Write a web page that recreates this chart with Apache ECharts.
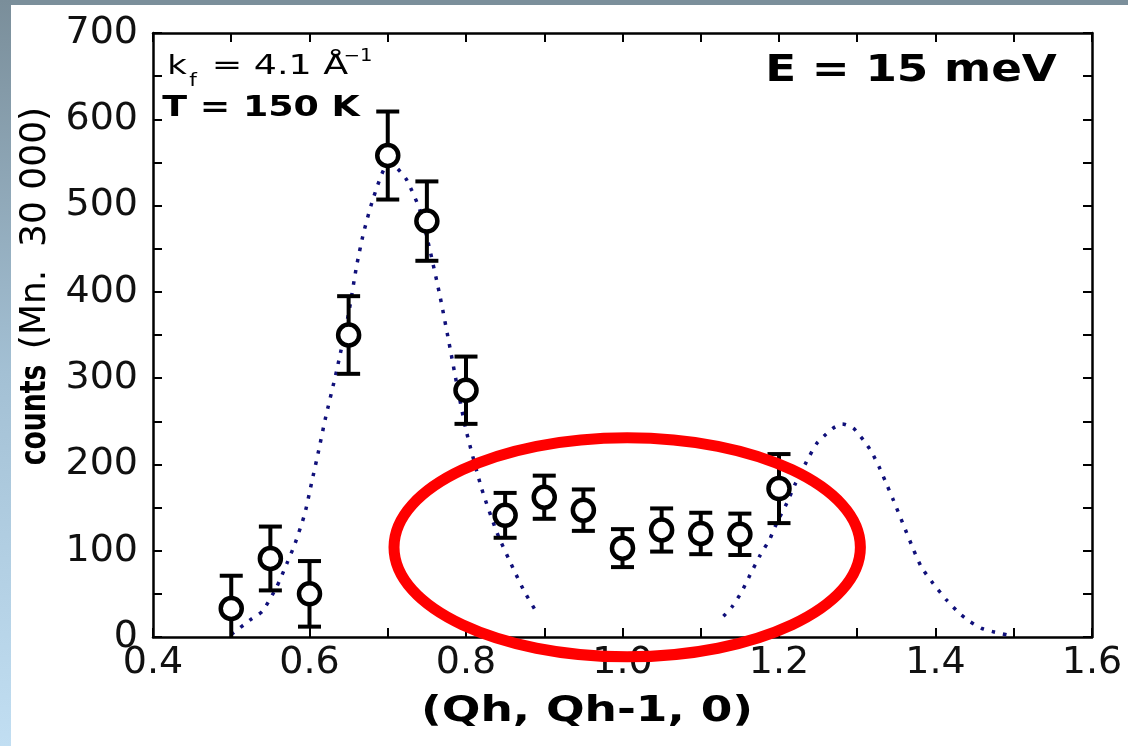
<!DOCTYPE html>
<html>
<head>
<meta charset="utf-8">
<script src="https://cdn.jsdelivr.net/npm/echarts@6/dist/echarts.min.js"></script>
<style>
  html, body { margin: 0; padding: 0; background: #ffffff; }
  #chart { width: 1128px; height: 746px; }
</style>
</head>
<body>
<div id="chart"></div>
<script>
// Measured scan at E = 15 meV: wave-vector position, counts and their uncertainty
const qh     = [0.50, 0.55, 0.60, 0.65, 0.70, 0.75, 0.80, 0.85, 0.90, 0.95, 1.00, 1.05, 1.10, 1.15, 1.20];
const counts = [33,   91,   50,   350,  558,  482,  286,  141,  162,  147,  103,  124,  120,  119,  172];
const errors = [38,   37,   38,   45,   51,   46,   39,   26,   25,   24,   22,   25,   24,   24,   40];

// Fitted peak profiles (dotted curves)
const fit1Q = [0.500, 0.526, 0.540, 0.558, 0.571, 0.581, 0.594, 0.603, 0.611, 0.620, 0.635, 0.650, 0.660, 0.669, 0.682, 0.700, 0.710, 0.724, 0.741, 0.754, 0.767, 0.780, 0.788, 0.800, 0.820, 0.840, 0.860, 0.875, 0.890];
const fit1C = [3,     21,    30,    58,    85,    107,   143,   180,   213,   252,   310,   375,   429,   468,   510,   548,   545,   530,   495,   448,   394,   333,   294,   240,   172,   120,   80,    52,    29];
const fit2Q = [1.129, 1.140, 1.152, 1.163, 1.176, 1.188, 1.197, 1.210, 1.220, 1.235, 1.248, 1.259, 1.269, 1.281, 1.295, 1.308, 1.318, 1.329, 1.338, 1.346, 1.359, 1.372, 1.382, 1.397, 1.414, 1.431, 1.444, 1.459, 1.474, 1.499];
const fit2C = [24,    35,    52,    72,    95,    113,   132,   155,   176,   203,   224,   234,   242,   247,   242,   228,   215,   195,   176,   159,   130,   101,   81,    62,    43,    27,    18,    10,    6,     1];

// Axis ranges
const qRange = [0.4, 1.6];
const cRange = [0, 700];

// Highlighted region (data units): centre, half-width, half-height
const highlightCentre = [1.006, 104];
const highlightHalf = [0.298, 127];

const TXT = 'DejaVu Sans, Verdana, sans-serif';

const chart = echarts.init(document.getElementById('chart'), null, { renderer: 'canvas' });

function tickStyle() {
  return {
    axisLine: { show: true, onZero: false, lineStyle: { color: '#000', width: 2.5 } },
    axisTick: { show: true, inside: true, length: 9, lineStyle: { color: '#000', width: 2 } },
    minorTick: { show: true, splitNumber: 2, length: 9, lineStyle: { color: '#000', width: 2 } },
    splitLine: { show: false },
    minorSplitLine: { show: false }
  };
}

// Square dots, well separated
const dotted = { color: '#10107a', width: 3.5, type: [3.5, 8], cap: 'butt' };

chart.setOption({
  animation: false,
  backgroundColor: '#ffffff',
  grid: { left: 153, top: 33, right: 36, bottom: 109, containLabel: false },
  xAxis: [
    Object.assign({
      type: 'value', min: qRange[0], max: qRange[1], interval: 0.2, position: 'bottom',
      axisLabel: { formatter: v => v.toFixed(1), fontSize: 38, color: '#111', fontFamily: TXT, margin: 7 }
    }, tickStyle()),
    Object.assign({
      type: 'value', min: qRange[0], max: qRange[1], interval: 0.2, position: 'top',
      axisLabel: { show: false }
    }, tickStyle())
  ],
  yAxis: [
    Object.assign({
      type: 'value', min: cRange[0], max: cRange[1], interval: 100, position: 'left',
      axisLabel: { fontSize: 38, color: '#111', fontFamily: TXT, margin: 15, padding: [0, 0, 8, 0] }
    }, tickStyle()),
    Object.assign({
      type: 'value', min: cRange[0], max: cRange[1], interval: 100, position: 'right',
      axisLabel: { show: false }
    }, tickStyle())
  ],
  series: [
    {
      name: 'fit 1', type: 'line', data: fit1Q.map((q, i) => [q, fit1C[i]]),
      showSymbol: false, smooth: 0.2, lineStyle: dotted, z: 2, silent: true
    },
    {
      name: 'fit 2', type: 'line', data: fit2Q.map((q, i) => [q, fit2C[i]]),
      showSymbol: false, smooth: 0.2, lineStyle: dotted, z: 2, silent: true
    },
    {
      name: 'error', type: 'custom', z: 3,
      data: qh.map((q, i) => [q, counts[i], errors[i]]),
      encode: { x: 0, y: 1 },
      renderItem: function (params, api) {
        const x = api.value(0), y = api.value(1), e = api.value(2);
        const low = Math.max(y - e, cRange[0]);
        const top = api.coord([x, y + e]);
        const bot = api.coord([x, low]);
        const half = 11.5;
        const st = { stroke: '#000', lineWidth: 4 };
        const children = [
          { type: 'line', shape: { x1: top[0], y1: top[1], x2: bot[0], y2: bot[1] }, style: st },
          { type: 'line', shape: { x1: top[0] - half, y1: top[1], x2: top[0] + half, y2: top[1] }, style: st }
        ];
        if (y - e >= cRange[0]) {
          children.push({ type: 'line', shape: { x1: bot[0] - half, y1: bot[1], x2: bot[0] + half, y2: bot[1] }, style: st });
        }
        return { type: 'group', children: children };
      }
    },
    {
      name: 'counts', type: 'scatter', z: 4,
      data: qh.map((q, i) => [q, counts[i]]),
      symbol: 'circle', symbolSize: 21,
      itemStyle: { color: '#ffffff', borderColor: '#000', borderWidth: 4.5, opacity: 1 }
    }
  ]
});

// Frame, labels and the highlighted region
const c0 = chart.convertToPixel({ gridIndex: 0 }, highlightCentre);
const cx = chart.convertToPixel({ gridIndex: 0 }, [highlightCentre[0] + highlightHalf[0], highlightCentre[1]]);
const cy = chart.convertToPixel({ gridIndex: 0 }, [highlightCentre[0], highlightCentre[1] + highlightHalf[1]]);

function label(text, x, y, font, opts) {
  return Object.assign({
    type: 'text', x: x, y: y, z: 10, silent: true,
    style: { text: text, font: font, fill: '#000', align: 'center', verticalAlign: 'middle' }
  }, opts || {});
}

chart.setOption({
  graphic: [
    { type: 'rect', z: -10, silent: true, shape: { x: 0, y: 0, width: 1128, height: 5 }, style: { fill: '#7b8f9b' } },
    {
      type: 'rect', z: -10, silent: true, shape: { x: 0, y: 0, width: 11, height: 746 },
      style: {
        fill: new echarts.graphic.LinearGradient(0, 0, 0, 1, [
          { offset: 0, color: '#7a8e9a' },
          { offset: 0.5, color: '#a3c0d4' },
          { offset: 1, color: '#c1def2' }
        ])
      }
    },
    label('E = 15 meV', 911, 71, 'bold 38px ' + TXT, { scaleX: 1.19 }),
    label('T = 150 K', 261, 109, 'bold 28px ' + TXT, { scaleX: 1.3 }),
    label('k', 177, 67, '27px ' + TXT, { scaleX: 1.25 }),
    label('f', 193, 81, '18px ' + TXT, { scaleX: 1.2 }),
    label('= 4.1 Å', 280, 67, '27px ' + TXT, { scaleX: 1.35 }),
    label('−1', 358, 57, '17px ' + TXT, { scaleX: 1.15 }),
    label('(Qh, Qh-1, 0)', 587, 712, 'bold 35px ' + TXT, { scaleX: 1.3 }),
    label('counts', 36, 415, 'bold 36px ' + TXT, { rotation: Math.PI / 2, scaleX: 0.74 }),
    label('(Mn.  30 000)', 36, 228, '36px ' + TXT, { rotation: Math.PI / 2, scaleX: 1.0 }),
    {
      type: 'ellipse', z: 20, silent: true,
      shape: { cx: c0[0], cy: c0[1], rx: cx[0] - c0[0], ry: c0[1] - cy[1] },
      style: { fill: 'none', stroke: '#ff0000', lineWidth: 11 }
    }
  ]
});
</script>
</body>
</html>
